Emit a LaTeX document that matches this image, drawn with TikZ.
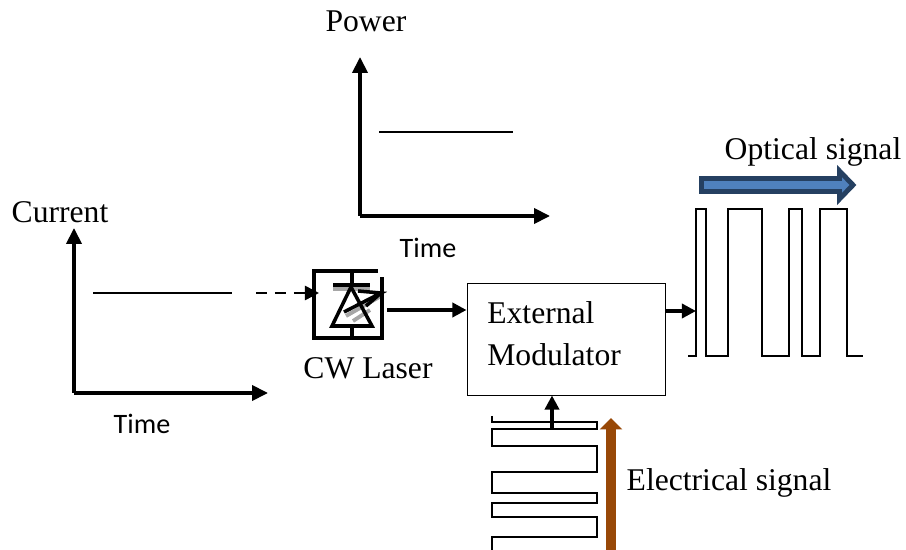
\documentclass[tikz,border=0pt]{standalone}
\usepackage{fontspec}
\setmainfont{Liberation Serif}
\newfontfamily\labelfont{Carlito}
\usetikzlibrary{arrows.meta}
\definecolor{arrowblue}{HTML}{4F81BD}
\definecolor{edgeblue}{HTML}{254061}
\definecolor{arrowbrown}{HTML}{984807}
\tikzset{
    axisline/.style = {line width = 2pt, -{Triangle[length = 9pt, width = 8.5pt]}},
    flowline/.style = {line width = 1.9pt, -{Triangle[length = 8pt, width = 8pt]}},
    thinline/.style = {line width = 0.8pt},
    wave/.style = {line width = 1.2pt, line join = miter},
    laserline/.style = {line width = 2pt, line join = miter},
    shadowline/.style = {line width = 2.2pt, color = gray!70},
    bigtext/.style = {inner sep = 0pt, font = \fontsize{18}{20}\selectfont},
    timetext/.style = {inner sep = 0pt, font = \labelfont\fontsize{16}{18}\selectfont}
}
\begin{document}
\begin{tikzpicture}[x = 0.02cm, y = -0.02cm]
        \useasboundingbox (0,0) rectangle (906,550);
        % power graph
        \coordinate (powerorigin) at (360, 216);
        \coordinate (powertop) at (360, 57);
        \coordinate (powerright) at (550, 216);
        \draw[axisline] (powerorigin) -- (powertop);
        \draw[axisline] (powerorigin) -- (powerright);
        \draw[thinline] (379, 132) -- (513, 132);
        \node[bigtext] (powerlabel) at (366, 21) {Power};
        \node[timetext] (powertime) at (428, 248) {Time};
        % current graph
        \coordinate (currentorigin) at (74, 393);
        \coordinate (currenttop) at (74, 228);
        \coordinate (currentright) at (268, 393);
        \draw[axisline] (currentorigin) -- (currenttop);
        \draw[axisline] (currentorigin) -- (currentright);
        \draw[thinline] (93, 293) -- (232, 293);
        \node[bigtext] (currentlabel) at (60, 212) {Current};
        \node[timetext] (currenttime) at (142, 424) {Time};
        % laser
        \coordinate (laserin) at (256, 293);
        \coordinate (laserleft) at (319, 293);
        \coordinate (laserout) at (387, 310);
        \draw[flowline, line width = 1.5pt, dash pattern = on 6.3pt off 4.5pt] (laserin) -- (laserleft);
        \draw[shadowline] (333, 289) -- (370, 289);
        \draw[shadowline] (346, 316) -- (381, 296);
        \draw[shadowline] (353, 321) -- (370, 310);
        \draw[laserline] (378, 271) -- (314, 271) -- (314, 338) -- (382, 338) -- (382, 277);
        \draw[laserline] (333, 285) -- (370, 285);
        \draw[laserline] (352, 271) -- (352, 287);
        \draw[laserline] (352, 326) -- (352, 338);
        \draw[laserline] (351, 287) -- (332, 326) -- (372, 326) -- cycle;
        \draw[laserline] (358, 291) -- (381, 293) -- (344, 312);
        \draw[laserline] (366, 306) -- (381, 293);
        \node[bigtext] (laserlabel) at (368, 368) {CW Laser};
        % modulator
        \node[draw, line width = 0.55pt, minimum width = 198 * 0.02cm, minimum height = 112 * 0.02cm, inner sep = 0pt] (modulator) at (566, 339) {};
        \node[bigtext, anchor = west] (externaltext) at (487, 313) {External};
        \node[bigtext, anchor = west] (modulatortext) at (487, 355) {Modulator};
        \draw[flowline] (laserout) -- (laserout -| modulator.west);
        % optical signal
        \coordinate (opticalin) at (696, 311);
        \draw[flowline] (opticalin -| modulator.east) -- (opticalin);
        \draw[wave] (688, 356) -- (696, 356) -- (696, 209) -- (706, 209) -- (706, 356) -- (728, 356) -- (728, 209) -- (762, 209) -- (762, 356)
            -- (789, 356) -- (789, 209) -- (802, 209) -- (802, 356) -- (820, 356) -- (820, 209) -- (847, 209) -- (847, 356) -- (863, 356);
        \draw[line width = 2.8pt, draw = edgeblue, fill = arrowblue, line join = miter]
            (701.5, 178.5) -- (839.5, 178.5) -- (839.5, 171) -- (853, 185) -- (839.5, 199) -- (839.5, 191.5) -- (701.5, 191.5) -- cycle;
        \node[bigtext] (opticallabel) at (813, 152) {Optical signal};
        % electrical signal
        \coordinate (electricalin) at (552, 429);
        \draw[flowline] (electricalin) -- (electricalin |- modulator.south);
        \draw[wave] (492, 416) -- (492, 422) -- (597, 422) -- (597, 429) -- (492, 429) -- (492, 446) -- (597, 446) -- (597, 472) -- (492, 472) -- (492, 493)
            -- (597, 493) -- (597, 503) -- (492, 503) -- (492, 517) -- (597, 517) -- (597, 537) -- (492, 537) -- (492, 550);
        \coordinate (brownstart) at (611, 550);
        \coordinate (brownend) at (611, 418);
        \draw[line width = 5.7pt, color = arrowbrown, -{Triangle[length = 6.5pt, width = 12.5pt]}] (brownstart) -- (brownend);
        \node[bigtext] (electricallabel) at (729, 483) {Electrical signal};
    \end{tikzpicture}
\end{document}
